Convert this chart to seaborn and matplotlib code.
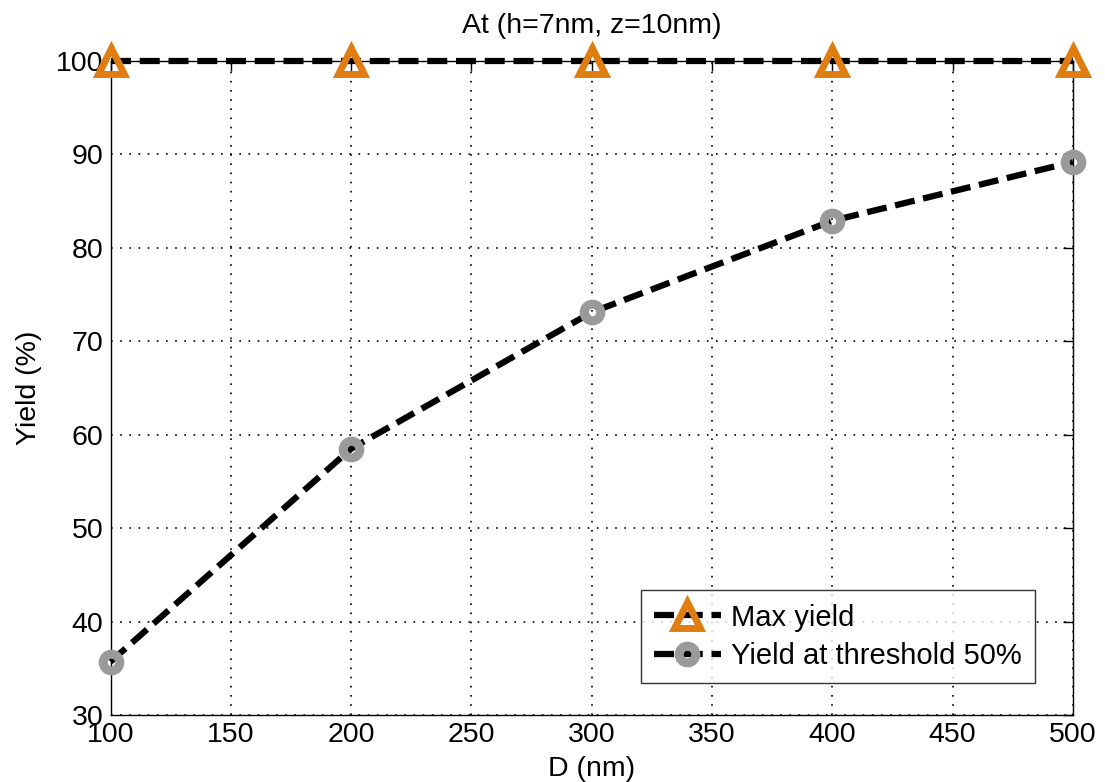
import matplotlib
matplotlib.use("Agg")
import matplotlib.pyplot as plt
import seaborn as sns
import pandas as pd

sns.set_theme(style="white")
plt.rcParams['font.family'] = ['Liberation Sans', 'DejaVu Sans']
plt.rcParams.update({"text.color": "black", "axes.labelcolor": "black",
                     "xtick.color": "black", "ytick.color": "black"})

# Distance values and the two yield curves
d_nm = [100, 200, 300, 400, 500]
max_yield = [100, 100, 100, 100, 100]
yield_thr50 = [35.7, 58.5, 73.1, 82.9, 89.2]

df = pd.DataFrame({"D": d_nm, "max": max_yield, "thr": yield_thr50})

fig = plt.figure(figsize=(11.05, 7.82), dpi=100)
ax = fig.add_axes([0.100, 0.0857, 0.871, 0.8363])

dash = (3.2, 1.4)
sns.lineplot(data=df, x="D", y="thr", ax=ax, color="black", lw=4.5,
             marker="o", markersize=12, markerfacecolor="none",
             markeredgecolor="#9a9a9a", markeredgewidth=6.5,
             label="Yield at threshold 50%", clip_on=False, zorder=5)
sns.lineplot(data=df, x="D", y="max", ax=ax, color="black", lw=4.5,
             marker="^", markersize=19, markerfacecolor="none",
             markeredgecolor="#e07d10", markeredgewidth=5,
             label="Max yield", clip_on=False, zorder=6)
for ln in ax.lines:
    ln.set_dashes(dash)

ax.set_xlim(100, 500)
ax.set_ylim(30, 100)
ax.set_xticks(range(100, 501, 50))
ax.set_yticks(range(30, 101, 10))
ax.tick_params(direction="in", length=7, width=1, labelsize=20.5,
               top=True, right=True, pad=5)
ax.grid(True, linestyle=(0, (1, 4.5)), color="black", linewidth=1.2)
for s in ax.spines.values():
    s.set_color("black")
    s.set_linewidth(1.0)

ax.set_xlabel("D (nm)", fontsize=20.5, labelpad=6)
ax.set_ylabel("Yield (%)", fontsize=20.5, labelpad=10)
ax.set_title("At (h=7nm, z=10nm)", fontsize=20.5, pad=20)

handles, labels = ax.get_legend_handles_labels()
order = [1, 0]
leg = ax.legend([handles[i] for i in order], [labels[i] for i in order],
                loc="lower right", bbox_to_anchor=(0.9605, 0.049),
                borderaxespad=0, fontsize=21,
                frameon=True, fancybox=False, edgecolor="black",
                handlelength=2.3, handletextpad=0.35, borderpad=0.45,
                labelspacing=0.35)
leg.get_frame().set_linewidth(1.0)

fig.savefig("out.png", dpi=100)
